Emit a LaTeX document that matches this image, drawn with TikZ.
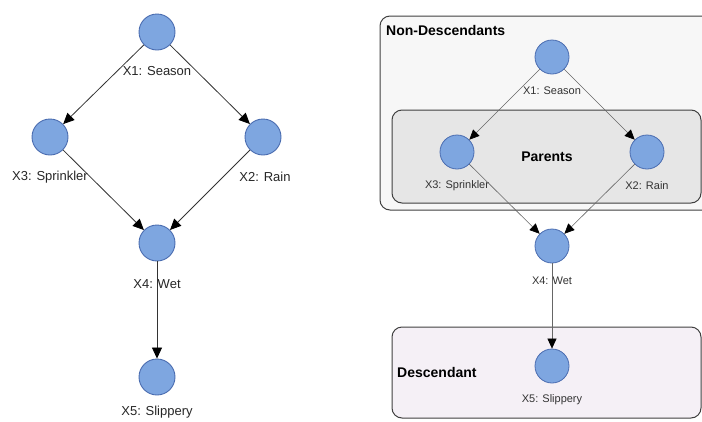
\documentclass[tikz,border=0pt]{standalone}
\usepackage{fontspec}
\setmainfont{Liberation Sans}
\usetikzlibrary{arrows.meta}
\definecolor{nodefill}{HTML}{7EA6E0}
\definecolor{nodeline}{HTML}{4A6CB0}
\definecolor{outerfill}{HTML}{F7F7F7}
\definecolor{parfill}{HTML}{E6E6E6}
\definecolor{descfill}{HTML}{F5F0F6}
\tikzset{
  bnodeL/.style={circle,draw=nodeline,fill=nodefill,line width=0.9pt,minimum size=36pt,inner sep=0pt},
  bnodeR/.style={circle,draw=nodeline,fill=nodefill,line width=0.8pt,minimum size=34pt,inner sep=0pt},
  lblL/.style={font=\fontsize{13}{15}\selectfont,text=black!85,inner sep=0pt},
  lblR/.style={font=\fontsize{11}{13}\selectfont,text=black!80,inner sep=0pt},
  grp/.style={font=\bfseries\fontsize{14}{16}\selectfont,inner sep=0pt},
  edgeL/.style={draw=black!80,line width=0.8pt,-{Triangle[length=11pt,width=10pt,color=black,fill=black]}},
  edgeR/.style={draw=black!60,line width=0.6pt,-{Triangle[length=10pt,width=9pt,color=black,fill=black]}},
  boxst/.style={draw=black!75,line width=1pt,rounded corners=10pt},
}
\begin{document}
\begin{tikzpicture}[x=1pt,y=-1pt]
\useasboundingbox (0,0) rectangle (702,421);
\clip (0,0) rectangle (702,421);
% ---- left graph ----
\node[bnodeL] (l1) at (157,32) {};
\node[bnodeL] (l3) at (50,137) {};
\node[bnodeL] (l2) at (263,137) {};
\node[bnodeL] (l4) at (157,243) {};
\node[bnodeL] (l5) at (157,377) {};
\node[lblL] (t1) at (157,71) {X1: Season};
\node[lblL] (t3) at (50,177) {X3: Sprinkler};
\node[lblL] (t2) at (265,177) {X2: Rain};
\node[lblL] (t4) at (157,284) {X4: Wet};
\node[lblL] (t5) at (157,412) {X5: Slippery};
\draw[edgeL] (l1) -- (l3);
\draw[edgeL] (l1) -- (l2);
\draw[edgeL] (l3) -- (l4);
\draw[edgeL] (l2) -- (l4);
\draw[edgeL] (l4) -- (l5);
% ---- right graph: group boxes ----
\draw[boxst,fill=outerfill] (380,16) rectangle (720,210);
\node[grp,anchor=west] (gnd) at (386,30) {Non-Descendants};
\draw[boxst,fill=parfill] (392,110) rectangle (701,203);
\node[grp] (gpa) at (547,157) {Parents};
\draw[boxst,fill=descfill] (392,327) rectangle (701,418);
\node[grp,anchor=west] (gde) at (397,372) {Descendant};
% ---- right graph: nodes ----
\node[bnodeR] (r1) at (552,57) {};
\node[bnodeR] (r3) at (457,152) {};
\node[bnodeR] (r2) at (647,152) {};
\node[bnodeR] (r4) at (552,246) {};
\node[bnodeR] (r5) at (552,366) {};
\node[lblR] (s1) at (552,91) {X1: Season};
\node[lblR] (s3) at (457,186) {X3: Sprinkler};
\node[lblR] (s2) at (647,186) {X2: Rain};
\node[lblR] (s4) at (552,281) {X4: Wet};
\node[lblR] (s5) at (552,400) {X5: Slippery};
\draw[edgeR] (r1) -- (r3);
\draw[edgeR] (r1) -- (r2);
\draw[edgeR] (r3) -- (r4);
\draw[edgeR] (r2) -- (r4);
\draw[edgeR] (r4) -- (r5);
\end{tikzpicture}
\end{document}
